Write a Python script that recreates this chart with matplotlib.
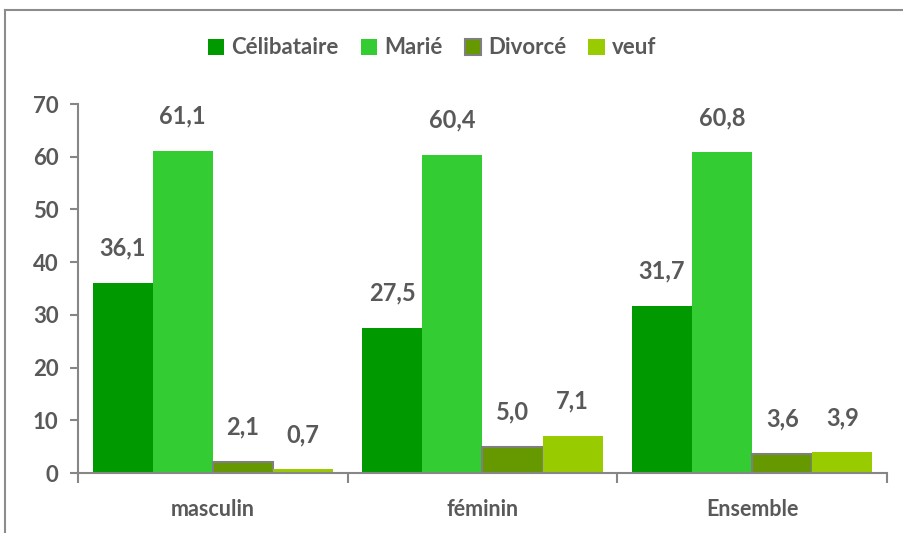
import matplotlib
matplotlib.use("Agg")
import matplotlib.pyplot as plt
import numpy as np
from matplotlib.lines import Line2D

plt.rcParams['font.family'] = ['Lato', 'DejaVu Sans']

# data
groupes = ["masculin", "féminin", "Ensemble"]
statuts = ["Célibataire", "Marié", "Divorcé", "veuf"]
celibataire = [36.1, 27.5, 31.7]
marie = [61.1, 60.4, 60.8]
divorce = [2.1, 5.0, 3.6]
veuf = [0.7, 7.1, 3.9]
series = [celibataire, marie, divorce, veuf]
couleurs = ["#009900", "#33CC33", "#669900", "#99CC00"]
bords = [None, None, "#7f7f7f", None]

txt = "#595959"
gris = "#868686"

fig = plt.figure(figsize=(9.04, 5.33), dpi=100)
ax = fig.add_axes([78 / 904, 60 / 533, 809 / 904, 369 / 533])

x = np.arange(len(groupes))
w = 0.223
for i, (vals, c, b) in enumerate(zip(series, couleurs, bords)):
    pos = x + (i - 1.5) * w
    if b:
        bars = ax.bar(pos, vals, w, color=c, edgecolor=b, linewidth=1.5, label=statuts[i])
    else:
        bars = ax.bar(pos, vals, w, color=c, linewidth=0, label=statuts[i])
    for p, v in zip(pos, vals):
        ax.annotate(f"{v:.1f}".replace(".", ","), (p, v), xytext=(0, 25),
                    textcoords="offset points", ha="center", va="center",
                    fontsize=17, fontweight="bold", color=txt)

ax.set_xlim(-0.5, 2.5)
ax.set_ylim(0, 70)
ax.set_yticks(range(0, 71, 10))
ax.set_xticks(x)
ax.set_xticklabels(groupes)
ax.xaxis.set_tick_params(length=0, pad=19)
ax.set_xticks([-0.5, 0.5, 1.5, 2.5], minor=True)
ax.tick_params(axis="x", which="minor", length=7, width=1.5, color=gris, direction="out")
ax.tick_params(axis="y", length=6, width=1.5, color=gris, pad=8)
for lab in ax.get_xticklabels():
    lab.set_fontsize(15.5)
    lab.set_fontweight("bold")
    lab.set_color(txt)
for lab in ax.get_yticklabels():
    lab.set_fontsize(16)
    lab.set_fontweight("bold")
    lab.set_color(txt)

for s in ["top", "right"]:
    ax.spines[s].set_visible(False)
for s in ["left", "bottom"]:
    ax.spines[s].set_color(gris)
    ax.spines[s].set_linewidth(1.5)

leg = ax.legend(loc="center", bbox_to_anchor=(432 / 904, 1 - 48 / 533),
                bbox_transform=fig.transFigure, ncol=4, frameon=False,
                handlelength=0.75, handleheight=0.75, handletextpad=0.3,
                columnspacing=1.0, prop={"size": 16, "weight": "bold"})
for t in leg.get_texts():
    t.set_color(txt)

# cadre du graphique
fig.add_artist(Line2D([5 / 904, 5 / 904], [0, 1 - 10 / 533], color="#8c8c8c", lw=1.5))
fig.add_artist(Line2D([5 / 904, 1], [1 - 10 / 533, 1 - 10 / 533], color="#8c8c8c", lw=1.5))

fig.savefig("out.png", dpi=100)
